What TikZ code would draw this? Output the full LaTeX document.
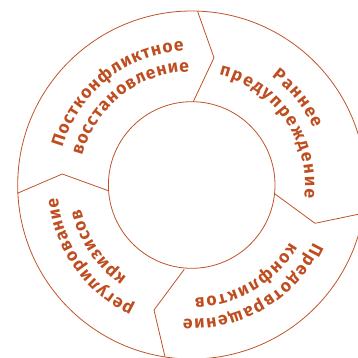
\documentclass[tikz,border=0pt]{standalone}
\usepackage{fontspec}
\usetikzlibrary{decorations.text}
\newfontfamily\lblfamily{Fira Sans}[Scale=1.75]
\definecolor{tc}{RGB}{190,78,32}
\definecolor{lc}{RGB}{192,82,40}
\newcommand\lbl{\lblfamily\bfseries}
\tikzset{
  ringline/.style={draw=lc, line width=0.8pt, line join=miter},
  arclabel/.style={decorate, decoration={text along path, text color=tc, text align={fit to path}, text={|\lbl|#1}}}
}
\begin{document}
\begin{tikzpicture}[x=1pt,y=1pt]
\useasboundingbox (-191.7,-173) rectangle (166.3,185);
\clip (-191.7,-173) rectangle (166.3,185);
\coordinate (c) at (0,0);
% ring
\draw[ringline] (c) circle[radius=174pt];
\draw[ringline] (c) circle[radius=83.3pt];
% dividers (chevrons pointing clockwise)
\coordinate (t1) at (6,173.3);   \coordinate (t2) at (22.3,127.3);  \coordinate (t3) at (1.6,83.3);
\coordinate (r1) at (171.7,-28.2); \coordinate (r2) at (123.3,-38.3); \coordinate (r3) at (83.3,-9);
\coordinate (b1) at (-26.7,-171.7); \coordinate (b2) at (-37.7,-125); \coordinate (b3) at (-7.4,-84.3);
\coordinate (l1) at (-174.4,-8.3); \coordinate (l2) at (-129.4,11); \coordinate (l3) at (-83.4,-5.7);
\draw[ringline] (t1) -- (t2) -- (t3);
\draw[ringline] (r1) -- (r2) -- (r3);
\draw[ringline] (b1) -- (b2) -- (b3);
\draw[ringline] (l1) -- (l2) -- (l3);
% labels
\path[arclabel={Раннее}] (53.5:134.4pt) arc[start angle=53.5, end angle=25, radius=134.4pt];
\path[arclabel={предупреждение}] (76:113.4pt) arc[start angle=76, end angle=-6.4, radius=113.4pt];
\path[arclabel={Постконфликтное}] (164:134.4pt) arc[start angle=164, end angle=93.3, radius=134.4pt];
\path[arclabel={восстановление}] (165:113.4pt) arc[start angle=165, end angle=91.2, radius=113.4pt];
\path[arclabel={Предотвращение}] (-25.3:134.4pt) arc[start angle=-25.3, end angle=-93.6, radius=134.4pt];
\path[arclabel={конфликтов}] (-30.2:113.4pt) arc[start angle=-30.2, end angle=-88.5, radius=113.4pt];
\path[arclabel={регулирование}] (244.8:134.4pt) arc[start angle=244.8, end angle=185.4, radius=134.4pt];
\path[arclabel={кризисов}] (235:113.4pt) arc[start angle=235, end angle=192.3, radius=113.4pt];
\end{tikzpicture}
\end{document}
